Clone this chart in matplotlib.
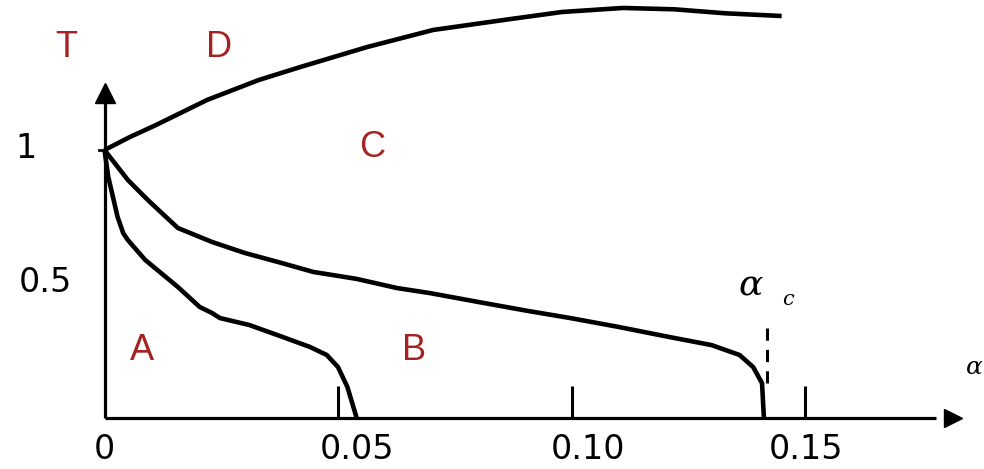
import matplotlib
matplotlib.use("Agg")
import matplotlib.pyplot as plt

# Boundary curves of the T–α diagram
curve_d_x = [0, 0.0055, 0.011, 0.022, 0.033, 0.042, 0.0562, 0.0704, 0.0875, 0.098, 0.111, 0.122, 0.133, 0.145]
curve_d_t = [1.0, 1.049, 1.093, 1.187, 1.261, 1.31, 1.384, 1.448, 1.49, 1.515, 1.53, 1.525, 1.51, 1.50]

curve_bc_x = [0, 0.005, 0.0093, 0.0157, 0.023, 0.030, 0.038, 0.0447, 0.054, 0.0626, 0.0697,
              0.080, 0.0905, 0.0997, 0.110, 0.121, 0.130, 0.136, 0.1389, 0.1408, 0.1412]
curve_bc_t = [1.0, 0.888, 0.813, 0.709, 0.657, 0.616, 0.578, 0.545, 0.519, 0.485, 0.466,
              0.433, 0.40, 0.373, 0.340, 0.302, 0.272, 0.235, 0.19, 0.13, 0.0]

curve_ab_x = [0, 0.0008, 0.0016, 0.0028, 0.004, 0.005, 0.0087, 0.0157, 0.0204, 0.023, 0.0247, 0.031,
              0.0382, 0.044, 0.0476, 0.050, 0.052, 0.054]
curve_ab_t = [1.0, 0.90, 0.84, 0.75, 0.69, 0.664, 0.59, 0.489, 0.414, 0.392, 0.373, 0.347,
              0.302, 0.265, 0.235, 0.19, 0.116, 0.0]

alpha_c = 0.1415
x_ticks = [0.05, 0.10, 0.15]
x_tick_labels = ["0", "0.05", "0.10", "0.15"]
y_tick_values = [1.0, 0.5]
y_tick_labels = ["1", "0.5"]
regions = ["A", "B", "C", "D"]

RED = "#a52222"
FONT = "Liberation Sans"
NUM_FONT = "DejaVu Sans"

fig = plt.figure(figsize=(9.84, 4.69), dpi=100)
ax = fig.add_axes([0, 0, 1, 1])
ax.set_xlim(-0.02238, 0.18833)
ax.set_ylim(-0.1903, 1.5597)
ax.axis("off")

# axes with arrow heads
ax.plot([0, 0], [0, 1.2], color="black", lw=2.3, solid_capstyle="butt")
ax.plot([0], [1.2127], marker="^", ms=15, color="black")
ax.plot([0, 0.178], [0, 0], color="black", lw=2.3, solid_capstyle="butt")
ax.plot([0.1817], [0], marker=">", ms=13, color="black")
ax.plot([-0.0012, 0], [1.0, 1.0], color="black", lw=2)

# tick marks on the α axis
for xt in x_ticks:
    ax.plot([xt, xt], [0, 0.119], color="black", lw=2.2, solid_capstyle="butt")

# curves
for xs, ts in [(curve_d_x, curve_d_t), (curve_bc_x, curve_bc_t), (curve_ab_x, curve_ab_t)]:
    ax.plot(xs, ts, color="black", lw=3.3, solid_joinstyle="round", solid_capstyle="butt")

# critical α marker
ax.plot([alpha_c + 0.0004, alpha_c + 0.0004], [0.13, 0.35], color="black", lw=2.2,
        linestyle=(0, (4, 3)))
ax.text(0.1384, 0.496, "α", fontsize=26, style="italic", family="DejaVu Serif",
        ha="center", va="center")
ax.text(0.1464, 0.444, "c", fontsize=15, style="italic", family="DejaVu Serif",
        ha="center", va="center")
ax.text(0.1880, 0.187, "α", fontsize=18, style="italic", family="DejaVu Serif",
        ha="right", va="center")

# tick labels
x_label_shift = [0, 0.004, 0.0035, 0.0002]
for val, lab, sh in zip([0] + x_ticks, x_tick_labels, x_label_shift):
    ax.text(val + sh, -0.119, lab, fontsize=24, family=NUM_FONT, ha="center", va="center")
y_label_x = [-0.0168, -0.0127]
for val, lab, lx in zip(y_tick_values, y_tick_labels, y_label_x):
    ax.text(lx, val + 0.005, lab, fontsize=24, family=NUM_FONT, ha="center", va="center")

# axis name and region letters
ax.text(-0.00824, 1.381, "T", fontsize=26, family=FONT, color=RED, ha="center", va="center")
region_pos = {"A": (0.0080, 0.25), "B": (0.0663, 0.25), "C": (0.0573, 1.011), "D": (0.0245, 1.381)}
for r in regions:
    px, py = region_pos[r]
    ax.text(px, py, r, fontsize=26, family=FONT, color=RED, ha="center", va="center")

fig.savefig("out.png", dpi=100)
